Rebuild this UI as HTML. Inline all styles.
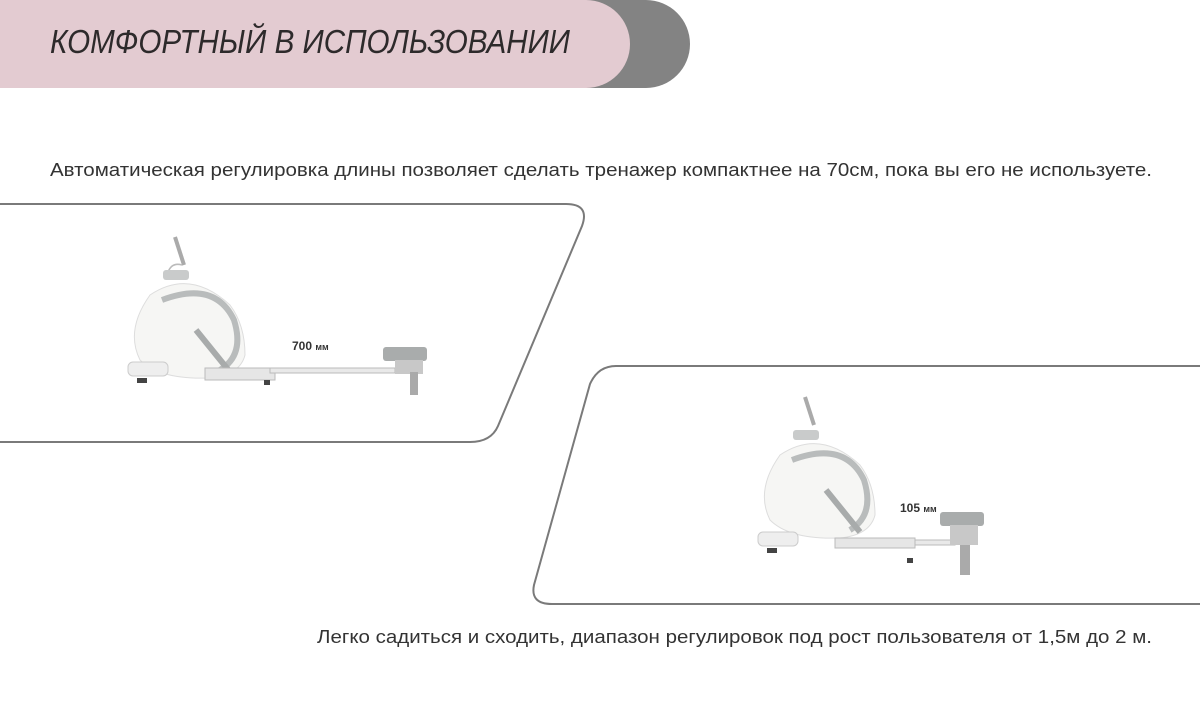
<!DOCTYPE html>
<html><head><meta charset="utf-8"><style>
html,body{margin:0;padding:0;background:#fff;width:1200px;height:720px;overflow:hidden}
svg{display:block}
</style></head><body>
<svg width="1200" height="720" viewBox="0 0 1200 720" xmlns="http://www.w3.org/2000/svg" font-family="Liberation Sans, sans-serif">
<path d="M0 0 H646 A44 44 0 0 1 690 44 A44 44 0 0 1 646 88 H0 Z" fill="#838383"/>
<path d="M0 0 H586 A44 44 0 0 1 630 44 A44 44 0 0 1 586 88 H0 Z" fill="#e3cbd1"/>
<text x="50" y="53" font-size="33" font-style="italic" fill="#2d2a2b" textLength="520" lengthAdjust="spacingAndGlyphs">КОМФОРТНЫЙ В ИСПОЛЬЗОВАНИИ</text>
<text x="50" y="176" font-size="18" fill="#333" textLength="1102" lengthAdjust="spacingAndGlyphs">Автоматическая регулировка длины позволяет сделать тренажер компактнее на 70см, пока вы его не используете.</text>
<text x="317" y="643" font-size="18" fill="#333" textLength="835" lengthAdjust="spacingAndGlyphs">Легко садиться и сходить, диапазон регулировок под рост пользователя от 1,5м до 2 м.</text>
<path d="M0 204 H566 Q590 204 582 226 L498 426 Q491 442 470 442 H0" fill="none" stroke="#7a7a7a" stroke-width="2"/>
<path d="M1200 366 H616 Q598 366 590 384 L534 585 Q530 604 552 604 H1200" fill="none" stroke="#7a7a7a" stroke-width="2"/>
<g id="m1">
<line x1="175" y1="237" x2="184" y2="265" stroke="#aaa" stroke-width="4"/>
<path d="M168 272 Q172 262 182 265" fill="none" stroke="#bbb" stroke-width="1.5"/>
<rect x="163" y="270" width="26" height="10" rx="3" fill="#c9cbcb"/>
<path d="M150 295 Q190 268 230 305 Q245 325 245 355 Q240 375 210 378 Q160 380 140 360 Q125 330 150 295 Z" fill="#f6f6f4" stroke="#ddd"/>
<path d="M162 300 Q215 280 234 320 Q245 355 220 370" fill="none" stroke="#b9bcbc" stroke-width="6"/>
<path d="M196 330 L230 372" stroke="#a8abab" stroke-width="6"/>
<rect x="128" y="362" width="40" height="14" rx="5" fill="#eee" stroke="#ccc"/>
<rect x="205" y="368" width="70" height="12" fill="#e6e6e6" stroke="#bbb"/>
<rect x="270" y="368" width="125" height="5" fill="#e9e9e9" stroke="#bbb"/>
<rect x="383" y="347" width="44" height="14" rx="3" fill="#a9acac"/>
<rect x="395" y="360" width="28" height="14" fill="#c8c8c8"/>
<path d="M410 372 L410 395 L418 395 L418 372" fill="#aaa"/>
<rect x="137" y="378" width="10" height="5" fill="#444"/>
<rect x="264" y="380" width="6" height="5" fill="#444"/>
<text x="292" y="350" font-size="12" font-weight="bold" fill="#333">700 <tspan font-size="9">мм</tspan></text>
</g>
<g transform="translate(630,160)">
<line x1="175" y1="237" x2="184" y2="265" stroke="#aaa" stroke-width="4"/>
<rect x="163" y="270" width="26" height="10" rx="3" fill="#c9cbcb"/>
<path d="M150 295 Q190 268 230 305 Q245 325 245 355 Q240 375 210 378 Q160 380 140 360 Q125 330 150 295 Z" fill="#f6f6f4" stroke="#ddd"/>
<path d="M162 300 Q215 280 234 320 Q245 355 220 370" fill="none" stroke="#b9bcbc" stroke-width="6"/>
<path d="M196 330 L230 372" stroke="#a8abab" stroke-width="6"/>
<rect x="128" y="372" width="40" height="14" rx="5" fill="#eee" stroke="#ccc"/>
<rect x="205" y="378" width="80" height="10" fill="#e6e6e6" stroke="#bbb"/>
<rect x="285" y="380" width="40" height="5" fill="#e9e9e9" stroke="#bbb"/>
<rect x="310" y="352" width="44" height="14" rx="3" fill="#a9acac"/>
<rect x="320" y="365" width="28" height="20" fill="#c8c8c8"/>
<path d="M330 385 L330 415 L340 415 L340 385" fill="#aaa"/>
<rect x="137" y="388" width="10" height="5" fill="#444"/>
<rect x="277" y="398" width="6" height="5" fill="#444"/>
<text x="270" y="352" font-size="12" font-weight="bold" fill="#333">105 <tspan font-size="9">мм</tspan></text>
</g>
</svg>
</body></html>
